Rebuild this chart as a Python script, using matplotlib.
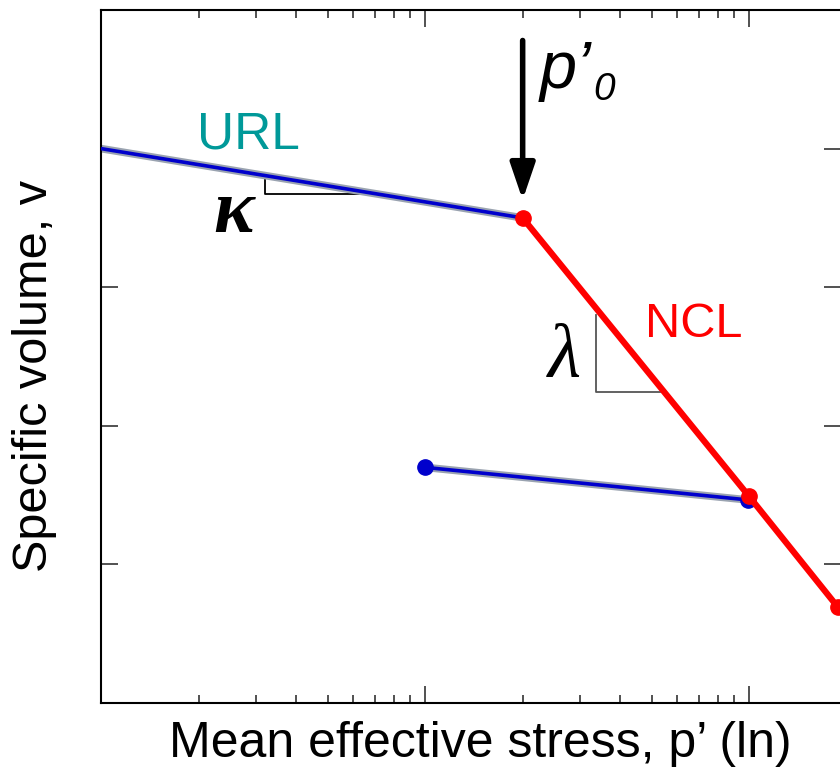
import numpy as np
import matplotlib
matplotlib.use("Agg")
from matplotlib import pyplot as plt

# data (p' on log axis, v on linear axis)
url_p = [1, 20]
url_v = [4.0, 3.5]
ncl_p = [20, 100, 188]
ncl_v = [3.5, 1.49, 0.69]
unload_p = [10, 99.3]
unload_v = [1.70, 1.465]

# slope triangles
kappa_tri_p = [3.21, 3.21, 6.77]
kappa_tri_v = [3.805, 3.672, 3.672]
lambda_tri_p = [33.7, 33.7, 53.1]
lambda_tri_v = [2.80, 2.244, 2.244]

y_ticks = [1, 2, 3, 4]

plt.rcParams['font.family'] = ['Liberation Sans', 'DejaVu Sans']

fig = plt.figure(figsize=(8.4, 7.72), dpi=100)
ax = fig.add_axes([101 / 840, 69 / 772, 740 / 840, 693 / 772])

blue = '#0000cc'
red = '#ff0000'

# unloading-reloading lines with a grey halo
ax.plot(url_p, url_v, color='#9aa3b0', lw=5.5, solid_capstyle='butt', zorder=2)
ax.plot(url_p, url_v, color=blue, lw=2.6, solid_capstyle='butt', zorder=3)
ax.plot(unload_p, unload_v, color='#9aa3b0', lw=5.5, solid_capstyle='butt', zorder=2)
ax.plot(unload_p, unload_v, color=blue, lw=2.6, marker='o', ms=11,
        mfc=blue, mec=blue, zorder=3)

# normal compression line
ax.plot(ncl_p, ncl_v, color=red, lw=4.5, marker='o', ms=11,
        mfc=red, mec=red, zorder=4, clip_on=False)

ax.plot(kappa_tri_p, kappa_tri_v, color='black', lw=1.3, zorder=1)
ax.plot(lambda_tri_p, lambda_tri_v, color='#555555', lw=1.3, zorder=1)

# pre-consolidation pressure arrow
ax.annotate('', xy=(20, 3.63), xytext=(20, 4.78),
            arrowprops=dict(arrowstyle='-|>,head_length=2.2,head_width=0.75',
                            color='black', lw=4, shrinkA=0, shrinkB=0))
ax.text(22.6, 4.44, 'p\u2019', fontsize=48, style='italic', ha='left', va='baseline')
ax.text(33.0, 4.35, '0', fontsize=28, style='italic', ha='left', va='baseline')

ax.text(2.86, 4.004, 'URL', fontsize=37, color='#009999', ha='center', va='baseline')
ax.text(67.2, 2.641, 'NCL', fontsize=35, color=red, ha='center', va='baseline')
ax.text(2.57, 3.398, '\u03ba', fontsize=55, family='Liberation Serif', style='italic',
        weight='bold', ha='center', va='baseline')
ax.text(26.85, 2.352, '\u03bb', fontsize=55, family='Liberation Serif', style='italic',
        ha='center', va='baseline')

ax.set_xscale('log')
ax.set_xlim(1, 192)
ax.set_ylim(0, 5)
ax.set_yticks(y_ticks)
ax.set_yticklabels([])
ax.xaxis.set_major_formatter(plt.NullFormatter())
ax.xaxis.set_minor_formatter(plt.NullFormatter())

ax.tick_params(which='major', direction='in', length=12, width=1.2, color='#333333',
               top=True, right=True)
ax.tick_params(which='minor', direction='in', length=6, width=1.2, color='#333333',
               top=True, right=True)
ax.spines['right'].set_visible(False)
for s in ['left', 'top', 'bottom']:
    ax.spines[s].set_linewidth(1.5)

ax.set_xlabel('Mean effective stress, p\u2019 (ln)', fontsize=36)
ax.set_ylabel('Specific volume, v', fontsize=35)
ax.xaxis.set_label_coords(0.512, -0.026)
ax.yaxis.set_label_coords(-0.06, 0.472)

fig.savefig('out.png', dpi=100)
plt.close(fig)
